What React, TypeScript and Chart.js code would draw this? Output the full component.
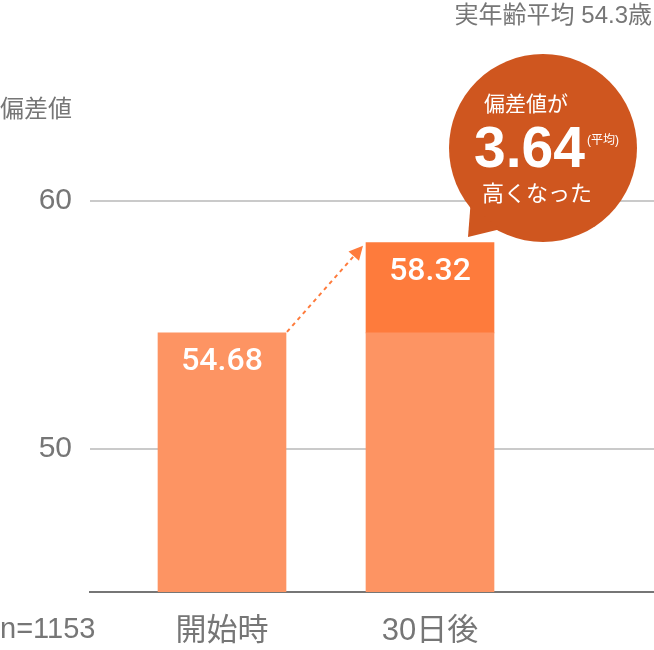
import { useEffect, useRef } from 'react'
import { Chart, registerables } from 'chart.js'

Chart.register(...registerables)

// data
const categories = ['開始時', '30日後']
const scores = [54.68, 58.32]
const yTicks = [50, 60]
const sampleSize = 1153
const realAgeAvg = 54.3

const FONT = '"Liberation Sans", "Noto Sans CJK JP", sans-serif'
const NUM_FONT = 'Roboto, "Liberation Sans", sans-serif'
const GRAY = '#767676'
const LIGHT = '#fd9463'
const DARK = '#fe7b3c'
const CALLOUT = '#cf561f'

const annotations = {
  id: 'annotations',
  afterDatasetsDraw(chart: Chart) {
    const ctx = chart.ctx
    const base = chart.getDatasetMeta(0).data as any[]
    const inc = chart.getDatasetMeta(1).data as any[]
    ctx.save()
    // value labels
    ctx.fillStyle = '#fff'
    ctx.font = `500 32px ${NUM_FONT}`
    ctx.textAlign = 'center'
    ctx.textBaseline = 'middle'
    ctx.fillText(scores[0].toFixed(2), base[0].x, base[0].y + 29)
    ctx.fillText(scores[1].toFixed(2), inc[0].x, inc[0].y + 29)

    // dashed arrow
    const x1 = base[0].x + base[0].width / 2 + 1
    const y1 = base[0].y - 1
    const x2 = inc[0].x - inc[0].width / 2 - 3
    const y2 = inc[0].y + 3
    const ang = Math.atan2(y2 - y1, x2 - x1)
    const head = 14
    ctx.strokeStyle = DARK
    ctx.fillStyle = DARK
    ctx.lineWidth = 2
    ctx.setLineDash([4, 4])
    ctx.beginPath()
    ctx.moveTo(x1, y1)
    ctx.lineTo(x2 - Math.cos(ang) * head, y2 - Math.sin(ang) * head)
    ctx.stroke()
    ctx.setLineDash([])
    ctx.beginPath()
    ctx.moveTo(x2, y2)
    ctx.lineTo(x2 - Math.cos(ang) * head + Math.sin(ang) * 7, y2 - Math.sin(ang) * head - Math.cos(ang) * 7)
    ctx.lineTo(x2 - Math.cos(ang) * head - Math.sin(ang) * 7, y2 - Math.sin(ang) * head + Math.cos(ang) * 7)
    ctx.closePath()
    ctx.fill()
    ctx.restore()
  },
  afterDraw(chart: Chart) {
    const ctx = chart.ctx
    ctx.save()
    ctx.fillStyle = GRAY
    ctx.textBaseline = 'middle'
    ctx.textAlign = 'left'
    ctx.font = `24px ${FONT}`
    ctx.fillText('偏差値', 0, 110)
    ctx.font = `29px ${FONT}`
    ctx.fillText(`n=${sampleSize}`, 0, 630)
    ctx.textAlign = 'right'
    ctx.font = `24px ${FONT}`
    ctx.fillText(`実年齢平均 ${realAgeAvg}歳`, 652, 16)

    // callout bubble
    const cx = 543, cy = 148, r = 94
    const a1 = (118 * Math.PI) / 180
    const a2 = (142 * Math.PI) / 180
    ctx.fillStyle = CALLOUT
    ctx.beginPath()
    ctx.arc(cx, cy, r, 0, Math.PI * 2)
    ctx.fill()
    ctx.beginPath()
    ctx.moveTo(cx + Math.cos(a1) * (r - 2), cy + Math.sin(a1) * (r - 2))
    ctx.lineTo(468, 237)
    ctx.lineTo(cx + Math.cos(a2) * (r - 2), cy + Math.sin(a2) * (r - 2))
    ctx.closePath()
    ctx.fill()

    ctx.fillStyle = '#fff'
    ctx.textAlign = 'center'
    ctx.font = `21px ${FONT}`
    ctx.fillText('偏差値が', 526, 105)
    ctx.font = `22px ${FONT}`
    ctx.fillText('高くなった', 537, 195)
    ctx.textAlign = 'left'
    ctx.textBaseline = 'alphabetic'
    ctx.font = `bold 57px ${FONT}`
    ctx.fillText((scores[1] - scores[0]).toFixed(2), 474, 167)
    ctx.textBaseline = 'middle'
    ctx.font = `12px ${FONT}`
    ctx.fillText('(平均)', 587, 141)
    ctx.restore()
  },
}

export default function App() {
  const chartRef = useRef<HTMLCanvasElement>(null)
  const chartInstance = useRef<Chart | null>(null)

  useEffect(() => {
    if (!chartRef.current) return
    if (chartInstance.current) chartInstance.current.destroy()

    const ctx = chartRef.current.getContext('2d')
    if (!ctx) return

    chartInstance.current = new Chart(ctx, {
      type: 'bar',
      data: {
        datasets: [
          {
            label: 'base',
            data: categories.map((_, i) => ({ x: i, y: scores[0] })),
            backgroundColor: LIGHT,
            barThickness: 128,
            maxBarThickness: 128,
            grouped: false,
            clip: 0,
          },
          {
            label: 'increase',
            data: [{ x: 1, y: scores[1] - scores[0] }],
            backgroundColor: DARK,
            barThickness: 128,
            maxBarThickness: 128,
            grouped: false,
            clip: 0,
          },
        ] as any,
      },
      plugins: [annotations],
      options: {
        animation: false,
        responsive: true,
        maintainAspectRatio: false,
        layout: { padding: { top: 52.2, left: 0, right: 0, bottom: 0 } },
        plugins: {
          legend: { display: false },
          tooltip: { enabled: false },
        },
        scales: {
          x: {
            type: 'linear',
            offset: false,
            bounds: 'data',
            min: -0.6346,
            max: 2.0769,
            afterBuildTicks: (scale: any) => {
              scale.ticks = categories.map((_, i) => ({ value: i }))
            },
            afterFit: (scale: any) => {
              scale.height = 58
            },
            grid: { display: false, drawTicks: false, offset: false },
            border: { display: true, color: GRAY, width: 2 },
            ticks: {
              padding: 21,
              color: GRAY,
              font: { size: 31, family: FONT },
              maxRotation: 0,
              autoSkip: false,
              callback: (v: any) => categories[v] ?? '',
            },
          },
          y: {
            stacked: true,
            min: 44.23,
            max: 66,
            afterBuildTicks: (scale: any) => {
              scale.ticks = yTicks.map(v => ({ value: v }))
            },
            afterFit: (scale: any) => {
              scale.width = 90
            },
            grid: { color: '#cacaca', lineWidth: 2, drawTicks: false },
            border: { display: false },
            ticks: {
              padding: 18,
              color: GRAY,
              font: { size: 30, family: FONT },
            },
          },
        },
      },
    } as any)

    return () => {
      if (chartInstance.current) {
        chartInstance.current.destroy()
        chartInstance.current = null
      }
    }
  }, [])

  return (
    <div style={{ position: 'fixed', left: 0, top: 0, width: 654, height: 650 }}>
      <canvas ref={chartRef}></canvas>
    </div>
  )
}
